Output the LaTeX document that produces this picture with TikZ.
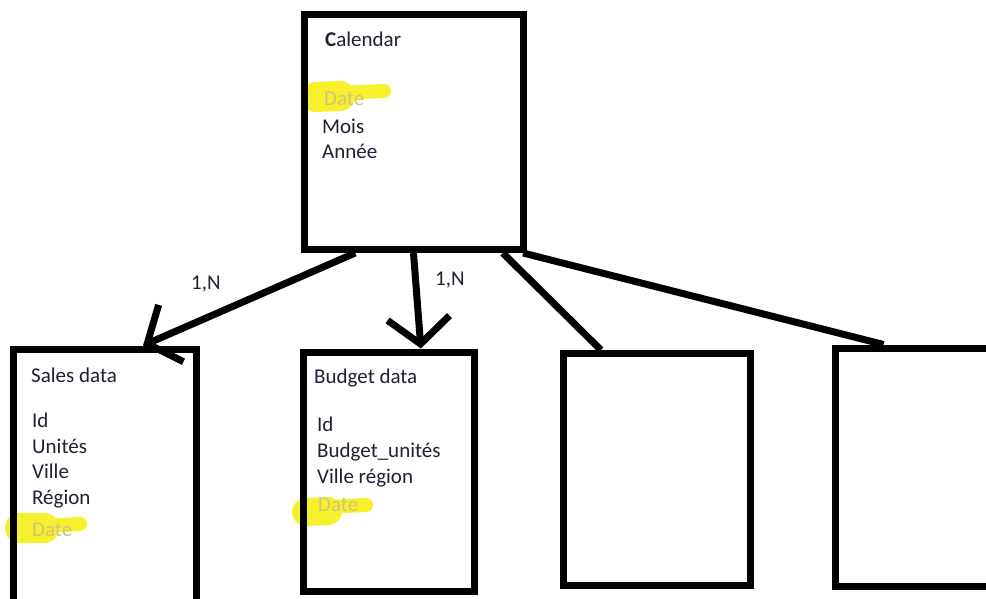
\documentclass[tikz,border=0pt]{standalone}
\usepackage{fontspec}
\setmainfont{Carlito}
\usetikzlibrary{arrows.meta,calc}
\definecolor{txt}{RGB}{30,32,52}
\definecolor{pale}{RGB}{205,198,120}
\definecolor{hl}{RGB}{247,240,45}

\begin{document}
\begin{tikzpicture}[x=1pt, y=-1pt,
  box/.style={draw, line width=7pt, inner sep=0pt},
  field/.style={anchor=base west, inner sep=0pt, text=txt, font=\fontsize{21}{26}\selectfont},
  key/.style={field, text=pale},
  link/.style={line width=7pt},
  barb/.style={link, -{Straight Barb[length=26pt, width=62pt]}},
  hilite/.style={hl, line cap=round}]
  \useasboundingbox (0,0) rectangle (986,598);
  \fill[white] (0,0) rectangle (986,598);
  \clip (0,0) rectangle (986,598);

  % 黄色标记 (Date)
  \draw[hilite, line width=30pt] (316,97) -- (340,96);
  \draw[hilite, line width=14pt] (335,93) -- (384,91);
  \draw[hilite, line width=30pt] (20,528) -- (44,528);
  \draw[hilite, line width=14pt] (40,526) -- (80,524);
  \draw[hilite, line width=28pt] (306,512) -- (328,511);
  \draw[hilite, line width=14pt] (325,507) -- (366,505);

  % 表
  \node[box, minimum width=219pt, minimum height=235.5pt] (cal) at (413.5,131.75) {};
  \node[box, minimum width=183pt, minimum height=271pt] (sales) at (105,484.5) {};
  \node[box, minimum width=171.5pt, minimum height=239pt] (bud) at (388.75,471.5) {};
  \node[box, minimum width=187.5pt, minimum height=231.5pt] (tab3) at (656.75,469.25) {};
  \node[box, minimum width=175pt, minimum height=238.5pt] (tab4) at (922.5,467.25) {};

  % 连线
  \draw[barb] ($(cal.south west)!0.242!(cal.south east)$) -- ($(sales.north west)!0.70!(sales.north east)$);
  \draw[barb] (cal.south) -- ($(bud.north west)!0.68!(bud.north east)$);
  \draw[link] ($(cal.south west)!0.895!(cal.south east)$) -- ($(tab3.north west)!0.213!(tab3.north east)$);
  \draw[link] ($(cal.south west)!0.985!(cal.south east)$) -- ($(tab4.north west)!0.286!(tab4.north east)$);
  \node[field] (card1) at (191,289) {1,N};
  \node[field] (card2) at (435,285) {1,N};

  % Calendar
  \node[field] (calT) at (325,46) {\textbf{C}alendar};
  \node[key]   (calD) at (324,105) {Date};
  \node[field] (calM) at (322,133) {Mois};
  \node[field] (calA) at (322,158) {Année};

  % Sales data
  \node[field] (salT) at (31,382) {Sales data};
  \node[field] (salI) at (32,427) {Id};
  \node[field] (salU) at (32,453) {Unités};
  \node[field] (salV) at (32,478) {Ville};
  \node[field] (salR) at (32,504) {Région};
  \node[key]   (salD) at (32,536) {Date};

  % Budget data
  \node[field] (budT) at (314,383) {Budget data};
  \node[field] (budI) at (317,431) {Id};
  \node[field] (budU) at (317,457) {Budget\_unités};
  \node[field] (budV) at (317,483) {Ville région};
  \node[key]   (budD) at (318,511) {Date};
\end{tikzpicture}
\end{document}
